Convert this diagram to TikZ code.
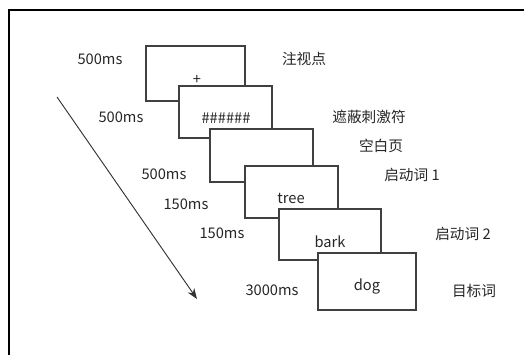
\documentclass[tikz,border=0pt]{standalone}
\usepackage{fontspec}
\setmainfont{Noto Sans CJK SC}
\usetikzlibrary{arrows.meta}
\begin{document}
\begin{tikzpicture}[x=0.75pt,y=-0.75pt,
  screen/.style={draw=black!75,fill=white,line width=0.9pt},
  lbl/.style={font=\fontsize{11}{13}\selectfont,text=black!85,inner sep=0pt},
  tlabel/.style={font=\fontsize{11}{13}\selectfont,text=black!85,inner sep=0pt}]
\useasboundingbox (0,0) rectangle (524,354);
\draw[line width=1.2pt,black] (9,360) -- (9,10) -- (530,10);
% screens
\draw[screen] (146,46) rectangle (245,101);
\node[lbl] (plus) at (197,80) {+};
\draw[screen] (179,86) rectangle (272,138);
\node[lbl] (mask) at (226,118) {\#\#\#\#\#\#};
\draw[screen] (210,129) rectangle (313,182);
\draw[screen] (245,166) rectangle (338,218);
\node[lbl] (tree) at (291,198) {tree};
\draw[screen] (279,209) rectangle (381,260);
\node[lbl] (bark) at (330,242) {bark};
\draw[screen] (318,253) rectangle (416,310);
\node[lbl] (dog) at (367,286) {dog};
% time labels
\node[tlabel] (t1) at (100,59) {500ms};
\node[tlabel] (t2) at (121,117) {500ms};
\node[tlabel] (t3) at (164,174) {500ms};
\node[tlabel] (t4) at (186,204) {150ms};
\node[tlabel] (t5) at (222,233) {150ms};
\node[tlabel] (t6) at (272,290) {3000ms};
% chinese labels
\node[lbl] (c1) at (304,59) {注视点};
\node[lbl] (c2) at (369,117) {遮蔽刺激符};
\node[lbl] (c3) at (381,146) {空白页};
\node[lbl] (c4) at (412,175) {启动词 1};
\node[lbl] (c5) at (463,234) {启动词 2};
\node[lbl] (c6) at (474,291) {目标词};
% arrow
\coordinate (a0) at (57,97);
\coordinate (a1) at (197,299);
\draw[black!80,line width=0.7pt,-{Stealth[length=8pt,width=6pt]}] (a0) -- (a1);
\end{tikzpicture}
\end{document}
